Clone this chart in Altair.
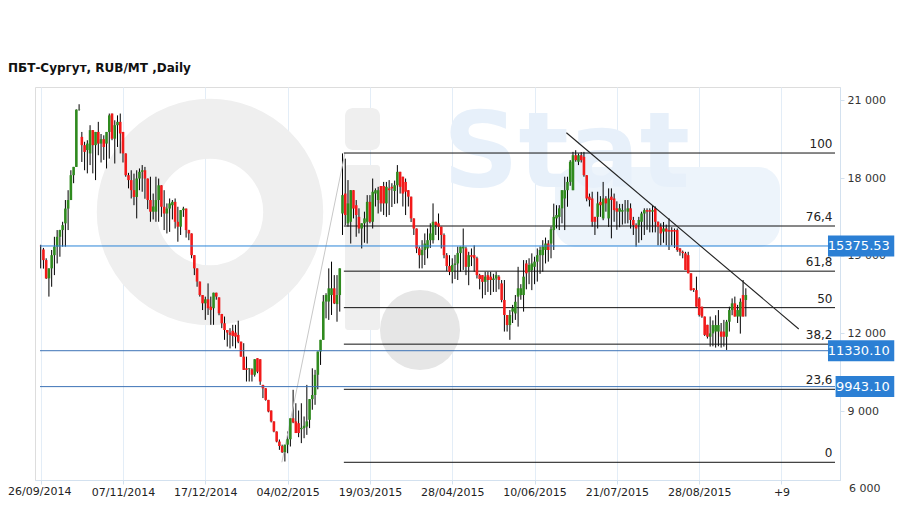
import altair as alt
import pandas as pd

TITLE = "ПБТ-Сургут,  RUB/MT ,Daily"

# ---- daily candles (open, high, low, close), RUB/MT -------------------------
OCT_DEC_2014 = [
    (15380, 15420, 14510, 15370), (15240, 15300, 14500, 14830), (14830, 14900, 14100, 14125),
    (14125, 14510, 13420, 14510), (14510, 15220, 13800, 15020), (15020, 15730, 14250, 15350),
    (15350, 15990, 14700, 15730), (15730, 16000, 14960, 15990), (15990, 16310, 15350, 16180),
    (16250, 17150, 15350, 16820), (16820, 17530, 15990, 17150), (17150, 18300, 17150, 18110),
    (18110, 18430, 17800, 18430), (18430, 20650, 18430, 20640), (20650, 20850, 20600, 20660),
    (19590, 19780, 18620, 19270), (19270, 19400, 18300, 19010), (19080, 19460, 18180, 19330),
    (18950, 20040, 18500, 19850), (19850, 19850, 18180, 19270), (19270, 19780, 17920, 19780),
    (19780, 20170, 18880, 19330), (19330, 19700, 18600, 19500), (19500, 19650, 18700, 19200),
    (19330, 19780, 18370, 19780), (19780, 20490, 18750, 20420), (20490, 20490, 19460, 19520),
    (19520, 20230, 18560, 20040), (20040, 20420, 19200, 20170), (20170, 20490, 18950, 19720),
    (19780, 19780, 18600, 18950), (18950, 18950, 18050, 18110), (18110, 18200, 17600, 17920),
    (17920, 18300, 17210, 17530), (17530, 18170, 16950, 17270), (17270, 18300, 16440, 17980),
    (17980, 18370, 17530, 18240), (18240, 18500, 17470, 18300), (18300, 18430, 17200, 17980),
    (17980, 17980, 16800, 17150), (17150, 18050, 16310, 16700), (16700, 17400, 16400, 16900),
    (16700, 18050, 16310, 17150), (17150, 17980, 16310, 17720), (17720, 17720, 16500, 16890),
    (16890, 17530, 15990, 16630), (16630, 17020, 15860, 16820), (16820, 17210, 15920, 17020),
    (16950, 17150, 16400, 17080), (17080, 17210, 16050, 16310), (16310, 16890, 15540, 16120),
    (16120, 16760, 15800, 16760), (16760, 16890, 16500, 16820), (16820, 16820, 15700, 15990),
    (15990, 16000, 15600, 15860), (15860, 15860, 14900, 15020), (15020, 15020, 14250, 14510),
    (14510, 14510, 13800, 14000), (14000, 14000, 13420, 13480),
]
DEC_2014_MAR_2015 = [
    (13480, 13480, 12900, 13160), (13160, 13420, 12520, 13315), (13315, 13930, 12710, 12970),
    (13030, 13420, 12330, 12900), (12970, 13570, 12330, 13570), (13570, 13570, 13300, 13420),
    (13390, 13390, 12700, 12775), (12750, 12750, 12200, 12390), (12390, 12650, 11750, 12130),
    (12130, 12130, 11490, 12030), (12030, 12200, 11420, 11940), (12100, 12330, 11500, 11900),
    (12030, 12330, 11420, 11870), (11940, 12490, 11620, 11680), (11680, 11680, 11100, 11100),
    (11100, 11620, 10590, 10590), (10650, 11100, 10140, 10590), (10620, 10650, 10140, 10650),
    (10610, 10650, 10140, 10400), (10400, 11000, 10330, 11000), (11040, 11040, 10460, 10520),
    (11000, 11000, 10010, 10140), (10010, 10010, 9500, 9880), (9880, 9880, 9400, 9430),
    (9430, 9430, 8950, 8980), (9020, 9020, 8560, 8600), (8600, 8600, 8180, 8210),
    (8210, 8210, 7790, 7820), (7820, 7900, 7500, 7650), (7650, 7700, 7380, 7410),
    (7410, 7700, 7050, 7700), (7700, 8210, 7370, 7910), (7910, 8720, 7630, 8720),
    (8720, 9820, 8530, 8560), (8600, 9300, 8150, 8150), (8530, 9020, 7990, 8150),
    (8300, 9300, 7760, 8350), (8340, 8790, 7950, 8430), (8400, 10010, 8080, 8600),
    (8660, 9460, 8340, 9460), (9460, 10650, 9050, 9620), (9620, 10590, 9240, 10400),
    (10400, 11300, 9840, 11300), (11300, 11750, 10780, 11750), (11750, 13480, 11750, 13230),
    (13230, 13550, 12580, 13480), (13230, 14510, 12520, 13740), (13480, 14770, 12710, 13740),
    (13740, 14250, 13130, 13160), (13130, 14250, 12450, 13480), (13480, 14510, 12840, 14510),
]
MAR_JUN_2015 = [
    (16630, 18950, 15800, 17340), (17400, 18750, 16180, 16570), (16250, 17920, 16120, 17020),
    (16310, 17530, 15470, 17530), (17530, 17530, 16440, 16820), (16950, 17150, 15730, 16570),
    (16500, 16830, 15860, 16050), (16050, 16250, 15280, 16250), (16250, 16700, 15500, 16440),
    (16310, 17340, 15470, 17080), (17080, 17340, 16250, 16310), (16310, 17980, 16050, 17470),
    (17400, 17600, 16900, 17530), (17150, 17660, 16630, 17530), (17690, 17690, 16700, 17020),
    (17690, 17850, 16570, 17020), (17020, 17850, 16500, 17660), (17600, 17920, 16570, 17530),
    (17660, 17800, 16880, 17600), (17500, 17900, 17000, 17720), (17720, 18500, 17020, 18240),
    (18240, 18240, 17400, 17660), (18050, 18050, 16900, 17400), (17850, 17980, 16570, 17470),
    (17530, 17530, 16900, 17280), (17280, 17280, 16300, 16440), (16440, 16440, 15800, 16050),
    (16050, 16050, 15100, 15280), (15280, 15350, 14510, 15020), (15020, 15600, 14510, 15220),
    (15220, 15860, 14640, 15470), (15280, 16050, 14900, 15600), (15600, 16250, 15300, 15860),
    (15600, 17020, 15470, 16310), (16310, 16310, 15800, 16180), (16250, 16630, 15600, 16120),
    (16120, 16120, 15280, 15800), (15800, 15860, 14900, 15020), (15020, 15100, 14400, 14600),
    (14600, 15020, 14250, 14380), (14380, 14900, 13930, 14640), (14640, 15030, 14100, 14700),
    (14700, 15350, 14060, 15100), (15100, 15350, 14380, 15350), (15280, 16050, 14450, 15350),
    (15280, 15350, 14250, 14570), (14570, 15150, 13860, 15020), (15020, 15280, 14600, 14960),
    (15020, 15400, 14380, 14900), (14900, 14960, 14120, 14250), (14250, 14300, 13700, 14100),
    (14250, 14250, 13350, 13990), (13990, 14380, 13480, 14190), (14250, 14380, 13600, 14060),
    (14190, 14380, 13480, 14060), (14060, 14300, 13600, 14120), (14120, 14380, 13600, 14250),
    (14190, 14250, 13700, 14060),
]
JUN_AUG_2015 = [
    (13930, 14060, 13200, 13290), (13290, 14060, 12070, 12710), (12710, 12710, 12070, 12320),
    (12320, 12900, 11750, 12710), (12840, 13100, 12400, 12970), (12770, 13480, 12520, 13220),
    (13420, 14570, 12260, 13740), (13480, 13900, 13300, 13740), (13480, 14830, 12840, 14190),
    (14700, 14830, 13700, 14320), (14380, 14900, 13900, 14640), (14440, 15090, 13670, 14700),
    (14570, 14960, 13900, 14770), (14770, 15280, 14000, 15020), (15020, 15350, 14300, 15220),
    (15020, 15600, 14380, 15350), (15220, 15700, 14700, 15470), (15470, 15600, 14770, 15220),
    (15470, 16120, 14900, 16020), (15990, 17010, 15220, 16500), (16440, 16950, 16050, 16570),
    (16500, 16950, 15990, 16830), (16830, 17530, 16250, 17530), (17210, 18050, 15990, 17530),
    (17530, 18050, 16890, 17850), (17850, 18690, 17700, 18630), (17530, 19010, 17530, 18880),
    (18880, 19075, 18630, 18690), (18630, 18950, 18500, 18880), (18880, 19000, 18600, 18690),
    (18820, 19010, 18050, 18110), (18110, 18110, 17100, 17210), (17280, 17400, 16900, 17150),
    (17210, 17470, 16120, 16310), (16500, 16500, 15800, 16310), (16500, 17470, 16050, 17020),
    (17080, 17300, 16500, 16950), (16440, 17850, 16370, 17210), (17210, 17300, 16700, 17020),
    (16440, 17600, 16110, 17210), (17280, 17600, 15670, 17150), (17210, 17400, 16310, 16760),
    (16830, 17100, 16000, 16700), (16700, 17000, 16100, 16830), (16700, 17000, 16200, 16760),
    (16760, 17150, 16240, 16770), (16700, 17150, 16250, 16830), (16830, 17020, 16050, 16380),
    (16380, 16500, 15800, 16180), (16180, 16250, 15350, 16050), (16180, 16500, 15500, 16380),
    (16310, 16700, 15600, 16630), (16630, 16830, 15800, 16760), (16760, 16830, 16000, 16700),
    (16760, 16830, 15900, 16700), (16700, 16950, 15900, 16760), (16830, 16900, 15900, 16310),
]
AUG_SEP_2015 = [
    (16310, 16320, 15400, 16120), (16120, 16250, 15400, 15860), (15930, 16300, 15500, 16050),
    (16050, 16200, 15400, 15930), (15990, 16440, 15220, 15930), (15990, 16100, 15400, 15930),
    (15990, 16050, 15300, 15930), (15990, 16050, 15150, 15220), (15280, 15300, 15000, 15150),
    (15150, 15200, 14900, 15100), (15090, 15150, 14446, 14450), (15020, 15150, 14320, 14320),
    (14320, 14320, 13650, 13670), (13740, 13740, 13600, 13674), (13670, 14190, 13030, 13030),
    (13350, 13400, 12650, 12710), (13030, 13030, 12600, 12650), (12650, 12650, 11900, 11940),
    (12330, 12330, 11800, 11870), (11870, 12650, 11490, 12000), (12000, 12500, 11500, 12320),
    (12070, 12700, 11450, 12320), (12070, 12900, 11500, 12320), (12070, 12400, 11450, 11870),
    (12070, 12520, 11490, 11870), (11870, 12520, 11360, 12450), (12450, 13030, 12070, 12900),
    (12900, 13350, 12700, 13160), (13160, 13420, 12650, 12650), (12650, 13100, 12400, 12900),
    (12650, 13350, 11990, 13220), (13480, 14060, 12650, 12650), (13290, 13740, 12650, 13480),
]

# ---- axes ------------------------------------------------------------------
DATE_TICKS = [0, 30, 60, 90, 120, 150, 180, 210, 240, 270]
DATE_LABELS = ["26/09/2014", "07/11/2014", "17/12/2014", "04/02/2015", "19/03/2015",
               "28/04/2015", "10/06/2015", "21/07/2015", "28/08/2015", "+9"]
PRICE_TICKS = [9000, 12000, 15000, 18000, 21000]
BOTTOM_PRICE_LABEL = [6000]

# ---- horizontal levels, Fibonacci grid, trend line ---------------------------
MAIN_LEVEL = [15375.53]
OTHER_LEVELS = [11330.10, 9943.10]
FIB_PCT = [0, 23.6, 38.2, 50, 61.8, 76.4, 100]
FIB_LOW, FIB_HIGH = 7020, 18966
FIB_LOW_BAR, FIB_HIGH_BAR = 87.9, 110.9
TREND_BARS = [191.6, 276.3]
TREND_PRICES = [19750, 12170]

# ---- layout -----------------------------------------------------------------
W, H = 805, 393
X_DOM = [-0.25, 289.5]
Y_DOM = [6336, 21516]
PX_PER_RUB = H / (Y_DOM[1] - Y_DOM[0])
PX_PER_BAR = W / (X_DOM[1] - X_DOM[0])
FONT = "DejaVu Sans"
GREEN, RED = "#2f8a1e", "#f21a1a"
GRID = "#e3edf7"
AXIS = "#d3e1ef"
WM_GRAY = "#efefef"

candles = OCT_DEC_2014 + DEC_2014_MAR_2015 + MAR_JUN_2015 + JUN_AUG_2015 + AUG_SEP_2015
df = pd.DataFrame(candles, columns=["open", "high", "low", "close"])
df["bar"] = range(len(df))
df["hi"] = df[["open", "high", "close"]].max(axis=1)
df["lo"] = df[["open", "low", "close"]].min(axis=1)
df["dir"] = ["up" if c >= o else "down" for o, c in zip(df["open"], df["close"])]

xs = alt.Scale(domain=X_DOM, nice=False, zero=False)
ys = alt.Scale(domain=Y_DOM, nice=False, zero=False)

label_expr = " : ".join(
    f"datum.value == {t} ? '{l}'" for t, l in zip(DATE_TICKS[1:], DATE_LABELS[1:])
) + " : ''"

x_axis = alt.Axis(values=DATE_TICKS, labelExpr=label_expr, grid=True, gridColor=GRID,
                  domainColor=AXIS, tickColor=AXIS, tickSize=4, labelFont=FONT,
                  labelFontSize=11, labelColor="#222", labelPadding=2, title=None,
                  labelAngle=0)
y_axis = alt.Axis(orient="right", values=PRICE_TICKS, grid=False, domainColor=AXIS,
                  tickColor=AXIS, tickSize=4, labelFont=FONT, labelFontSize=11,
                  labelColor="#333", labelPadding=3, title=None,
                  labelExpr="replace(format(datum.value, ','), ',', ' ')")

# ---- faint "OilStat" watermark (shapes only) ---------------------------------
one = pd.DataFrame({"k": [0]})
wm_ring = alt.Chart(one).mark_point(
    shape="circle", filled=False, size=27700, strokeWidth=60, color=WM_GRAY,
    opacity=1).encode(x=alt.value(175), y=alt.value(125))
wm_stem = alt.Chart(one).mark_rect(color=WM_GRAY, cornerRadius=3).encode(
    x=alt.value(310), x2=alt.value(345), y=alt.value(78), y2=alt.value(243))
wm_dot = alt.Chart(one).mark_rect(color=WM_GRAY, cornerRadius=8).encode(
    x=alt.value(310), x2=alt.value(345), y=alt.value(21), y2=alt.value(63))
wm_ball = alt.Chart(one).mark_point(
    filled=True, size=6400, color="#e6e6e6", opacity=1).encode(
    x=alt.value(385), y=alt.value(243))
wm_pill = alt.Chart(one).mark_rect(color="#edf4fb", cornerRadius=22).encode(
    x=alt.value(520), x2=alt.value(745), y=alt.value(80), y2=alt.value(160))
wm_stat = alt.Chart(one).mark_text(
    text="Stat", align="left", baseline="alphabetic", font=FONT, fontSize=105,
    fontWeight="bold", color="#e7f0fa").encode(x=alt.value(408), y=alt.value(100))

wicks = alt.Chart(df).mark_rule(color="#000", strokeWidth=1).encode(
    x=alt.X("bar:Q", scale=xs, axis=x_axis),
    y=alt.Y("lo:Q", scale=ys, axis=y_axis),
    y2="hi:Q",
)
bodies = alt.Chart(df).mark_bar(size=2.6).encode(
    x=alt.X("bar:Q", scale=xs),
    y=alt.Y("open:Q", scale=ys),
    y2="close:Q",
    color=alt.Color("dir:N", scale=alt.Scale(domain=["up", "down"], range=[GREEN, RED]),
                    legend=None),
)

# fibonacci levels
fib = pd.DataFrame({
    "pct": FIB_PCT,
    "price": [FIB_LOW + p / 100 * (FIB_HIGH - FIB_LOW) for p in FIB_PCT],
    "label": [("%g" % p).replace(".", ",") for p in FIB_PCT],
    "x0": FIB_HIGH_BAR - 0.4,
    "x1": X_DOM[1],
})
fib_lines = alt.Chart(fib).mark_rule(color="#111", strokeWidth=1).encode(
    x=alt.X("x0:Q", scale=xs), x2="x1:Q", y=alt.Y("price:Q", scale=ys))
fib_text = alt.Chart(fib).mark_text(align="right", baseline="middle", dx=-2.5, dy=-9,
                                    font=FONT, fontSize=12, color="#222").encode(
    x=alt.X("x1:Q", scale=xs), y=alt.Y("price:Q", scale=ys), text="label:N")

anchor = pd.DataFrame({"x0": [FIB_LOW_BAR], "x1": [FIB_HIGH_BAR],
                       "y0": [FIB_LOW], "y1": [FIB_HIGH]})
anchor_line = alt.Chart(anchor).mark_rule(color="#c8c8c8", strokeWidth=1).encode(
    x=alt.X("x0:Q", scale=xs), x2="x1:Q", y=alt.Y("y0:Q", scale=ys), y2="y1:Q")

trend = pd.DataFrame({"x0": [TREND_BARS[0]], "x1": [TREND_BARS[1]],
                      "y0": [TREND_PRICES[0]], "y1": [TREND_PRICES[1]]})
trend_line = alt.Chart(trend).mark_rule(color="#222", strokeWidth=1.1).encode(
    x=alt.X("x0:Q", scale=xs), x2="x1:Q", y=alt.Y("y0:Q", scale=ys), y2="y1:Q")


def level_frame(values):
    lv = pd.DataFrame({"price": values, "text": [f"{v:.2f}" for v in values]})
    lv["x0"] = X_DOM[0]
    lv["x1"] = X_DOM[1]
    box_right_px = 865.0
    lv["bx1"] = X_DOM[0] + box_right_px / PX_PER_BAR
    lv["bx0"] = [X_DOM[0] + (box_right_px - (len(t) * 7.7 + 5.5)) / PX_PER_BAR
                 for t in lv["text"]]
    lv["tx"] = X_DOM[0] + (box_right_px - 4.5) / PX_PER_BAR
    lv["by0"] = lv["price"] - 10.5 / PX_PER_RUB
    lv["by1"] = lv["price"] + 10.5 / PX_PER_RUB
    return lv


main_lv = level_frame(MAIN_LEVEL)
other_lv = level_frame(OTHER_LEVELS)
all_lv = pd.concat([main_lv, other_lv], ignore_index=True)

main_line = alt.Chart(main_lv).mark_rule(strokeWidth=1, color="#2a84d8").encode(
    x=alt.X("x0:Q", scale=xs), x2="x1:Q", y=alt.Y("price:Q", scale=ys))
other_lines = alt.Chart(other_lv).mark_rule(strokeWidth=1, color="#3d73b6").encode(
    x=alt.X("x0:Q", scale=xs), x2="x1:Q", y=alt.Y("price:Q", scale=ys))
level_boxes = alt.Chart(all_lv).mark_rect(color="#2b7fd4").encode(
    x=alt.X("bx0:Q", scale=xs), x2="bx1:Q", y=alt.Y("by0:Q", scale=ys), y2="by1:Q")
level_text = alt.Chart(all_lv).mark_text(align="right", baseline="middle", font=FONT,
                                         fontSize=13, color="white", dy=0.5).encode(
    x=alt.X("tx:Q", scale=xs), y=alt.Y("price:Q", scale=ys), text="text:N")

# extra labels: first date (kept inside the page), bottom price label, title
first_date = alt.Chart(pd.DataFrame({"t": [DATE_LABELS[0]]})).mark_text(
    align="left", baseline="middle", font=FONT, fontSize=11, color="#222").encode(
    x=alt.value(-27), y=alt.value(H + 12), text="t:N")
bottom_price = alt.Chart(pd.DataFrame({"p": BOTTOM_PRICE_LABEL})).transform_calculate(
    lab="replace(format(datum.p, ','), ',', ' ')").mark_text(
    align="left", baseline="middle", font=FONT, fontSize=11, color="#333").encode(
    x=alt.value(W + 9), y=alt.Y("p:Q", scale=ys), text="lab:N")
title = alt.Chart(pd.DataFrame({"t": [TITLE]})).mark_text(
    align="left", baseline="middle", font=FONT, fontSize=12, fontWeight="bold",
    color="#111").encode(x=alt.value(-27), y=alt.value(-19), text="t:N")

chart = alt.layer(
    wm_ring, wm_stem, wm_dot, wm_ball, wm_pill, wm_stat,
    wicks, anchor_line, fib_lines, bodies, main_line, other_lines, trend_line, fib_text,
    level_boxes, level_text, first_date, bottom_price, title,
).properties(
    width=W, height=H,
    autosize=alt.AutoSizeParams(type="none"),
    padding={"left": 27, "top": 79, "right": 61, "bottom": 21},
).configure_view(stroke="transparent").configure(background="white")

chart.save("out.html", embed_options={"renderer": "svg", "actions": False})
